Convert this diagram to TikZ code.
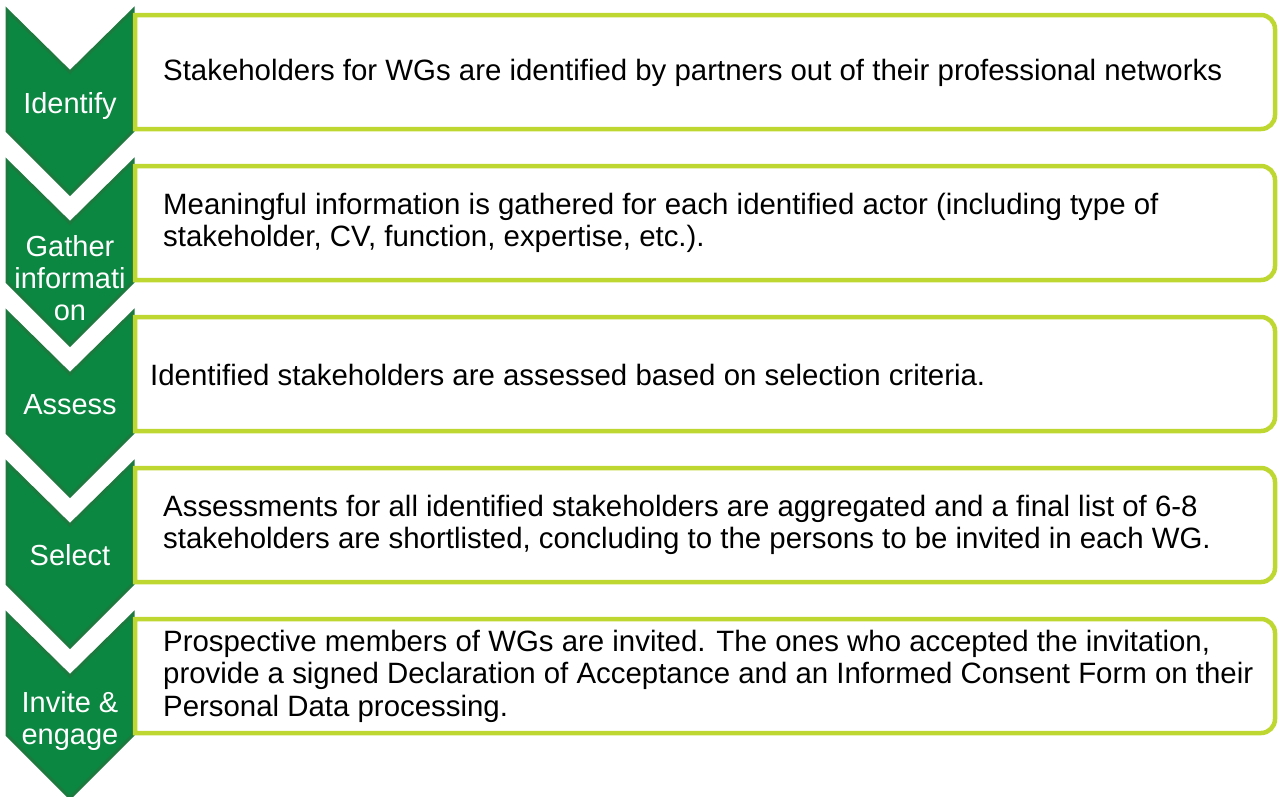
\documentclass[tikz,border=0pt]{standalone}
\usepackage{fontspec}
\setmainfont{Liberation Sans}
\usepackage{tikz}
\usetikzlibrary{positioning}

\definecolor{verde}{RGB}{11,135,66}
\definecolor{verdeborde}{RGB}{28,122,63}
\definecolor{lima}{RGB}{191,215,49}

\begin{document}
\begin{tikzpicture}[x=1pt, y=-1pt,
    paso/.style={fill=verde, draw=verdeborde, line width=3pt, line join=miter},
    caja/.style={fill=white, draw=lima, line width=4.5pt},
    etiqueta/.style={text=white, anchor=north, inner sep=0pt, align=center, font=\fontsize{29}{32}\selectfont},
    texto/.style={anchor=west, inner sep=0pt, align=left, font=\fontsize{29.4}{32.5}\selectfont}]
            \useasboundingbox (0,0) rectangle (1279,796);

            % Pasos
            \draw[paso] (7,10) -- (70,72) -- (133,10) -- (133,131) -- (70,194) -- (7,131) -- cycle;
            \draw[paso] (7,161) -- (70,223) -- (133,161) -- (133,282) -- (70,345) -- (7,282) -- cycle;
            \draw[paso] (7,312) -- (70,374) -- (133,312) -- (133,433) -- (70,496) -- (7,433) -- cycle;
            \draw[paso] (7,463) -- (70,525) -- (133,463) -- (133,584) -- (70,647) -- (7,584) -- cycle;
            \draw[paso] (7,614) -- (70,676) -- (133,614) -- (133,735) -- (70,798) -- (7,735) -- cycle;

            % Cajas
            \draw[caja] (700,15) [rounded corners=14pt] -- (1275,15) -- (1275,129) -- (700,129) [sharp corners] -- (135,129) -- (135,15) -- cycle;
            \draw[caja] (700,166) [rounded corners=14pt] -- (1275,166) -- (1275,280) -- (700,280) [sharp corners] -- (135,280) -- (135,166) -- cycle;
            \draw[caja] (700,317) [rounded corners=14pt] -- (1275,317) -- (1275,431) -- (700,431) [sharp corners] -- (135,431) -- (135,317) -- cycle;
            \draw[caja] (700,468) [rounded corners=14pt] -- (1275,468) -- (1275,582) -- (700,582) [sharp corners] -- (135,582) -- (135,468) -- cycle;
            \draw[caja] (700,619) [rounded corners=14pt] -- (1275,619) -- (1275,733) -- (700,733) [sharp corners] -- (135,733) -- (135,619) -- cycle;

            % Etiquetas
            \node[etiqueta] (identify) at (70,92) {Identify};
            \node[etiqueta] (gather) at (70,235) {Gather\\informati\\on};
            \node[etiqueta] (assess) at (70,394) {Assess};
            \node[etiqueta] (select) at (70,544) {Select};
            \node[etiqueta] (invite) at (70,691) {Invite \&\\engage};

            % Textos
            \node[texto] (tidentify) at (163,73) {Stakeholders for WGs are identified by partners out of their professional networks};
            \node[texto] (tgather) at (163,223) {Meaningful information is gathered for each identified actor (including type of\\stakeholder, CV, function, expertise, etc.).};
            \node[texto] (tassess) at (150,375) {Identified stakeholders are assessed based on selection criteria.};
            \node[texto] (tselect) at (163,525) {Assessments for all identified stakeholders are aggregated and a final list of 6-8\\stakeholders are shortlisted, concluding to the persons to be invited in each WG.};
            \node[texto] (tinvite) at (163,676) {Prospective members of WGs are invited. The ones who accepted the invitation,\\provide a signed Declaration of Acceptance and an Informed Consent Form on their\\Personal Data processing.};
          \end{tikzpicture}
\end{document}
